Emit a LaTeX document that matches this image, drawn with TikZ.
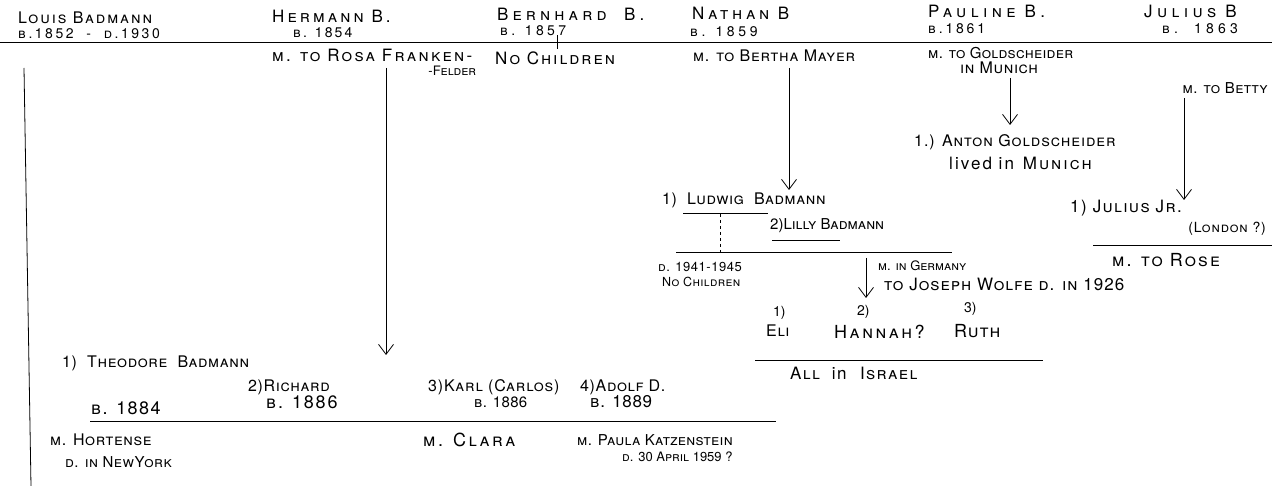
\documentclass[tikz,border=0pt]{standalone}
\usepackage{fontspec}
\setmainfont{TeX Gyre Heros}
\usetikzlibrary{arrows.meta}
\begin{document}
\begin{tikzpicture}[x=1pt,y=-1pt,
  hw/.style 2 args={anchor=west,inner sep=0pt,font=\fontsize{#1}{#1}\selectfont\addfontfeatures{LetterSpace=#2}\scshape},
  ln/.style={line width=0.8pt},
  arr/.style={line width=0.8pt,-{Straight Barb[length=10pt,width=15pt]}}]
\useasboundingbox[fill=white] (0,0) rectangle (1272,486);
% ---- top generation
\node[hw={16}{12}] (louis) at (18,18) {Louis Badmann};
\node[hw={14}{18}] (louisd) at (18,34) {b.1852\ \ -\ \ d.1930};
\node[hw={17}{18}] (herm) at (272,16) {Hermann B.};
\node[hw={14}{15}] (hermb) at (293,33) {b. 1854};
\node[hw={17}{24}] (bern) at (497,14) {Bernhard\ \ B.};
\node[hw={14}{24}] (bernb) at (500,31) {b. 1857};
\node[hw={17}{22}] (nath) at (692,13) {Nathan B};
\node[hw={14}{26}] (nathb) at (690,32) {b. 1859};
\node[hw={17}{26}] (paul) at (928,11) {Pauline B.};
\node[hw={14}{20}] (paulb) at (928,29) {b.1861};
\node[hw={17}{26},anchor=east] (jul) at (1237,11) {Julius B};
\node[hw={14}{30},anchor=east] (julb) at (1238,29) {b.\ \ 1863};
\coordinate (mainL) at (0,42);
\coordinate (mainR) at (1272,42);
\draw[ln] (mainL) -- (mainR);
\coordinate (tickA) at (557,35);
\coordinate (tickB) at (557,49);
\draw[ln] (tickA) -- (tickB);
% ---- marriages
\node[hw={17}{13}] (hermm) at (272,55) {m. to Rosa Franken-};
\node[hw={13}{0},anchor=east] (hermf) at ([xshift=4pt,yshift=-16pt]hermm.east) {-Felder};
\node[hw={17}{12}] (bernn) at (495,58) {No Children};
\node[hw={16}{5}] (nathm) at (693,56) {m. to Bertha Mayer};
\node[hw={15}{2}] (paulm) at (928,53) {m. to Goldscheider};
\node[hw={16}{4}] (paulmu) at (960,68) {in Munich};
\node[hw={15}{3},anchor=east] (julm) at (1268,88) {m. to Betty};
% ---- Louis line and arrows
\coordinate (louisA) at (24,68);
\coordinate (louisB) at (31,486);
\draw[ln] (louisA) -- (louisB);
\coordinate (hermA) at (386,68);
\coordinate (hermB) at (386,355);
\draw[arr] (hermA) -- (hermB);
\coordinate (nathA) at (789,68);
\coordinate (nathB) at (789,190);
\draw[arr] (nathA) -- (nathB);
\coordinate (paulA) at (1010,78);
\coordinate (paulB) at (1010,125);
\draw[arr] (paulA) -- (paulB);
\coordinate (julA) at (1184,98);
\coordinate (julB) at (1184,200);
\draw[arr] (julA) -- (julB);
% ---- Pauline's child
\node[hw={16}{6}] (anton) at (914,142) {1.) Anton Goldscheider};
\node[hw={17}{12}] (antonl) at (949,163) {\textulc{lived in} Munich};
% ---- Nathan's children
\node[hw={16}{4}] (lud) at (662,200) {1)\ \ Ludwig\ \ Badmann};
\coordinate (ludUL) at (683,213);
\coordinate (ludUR) at (768,213);
\draw[ln] (ludUL) -- (ludUR);
\node[hw={15}{0}] (lil) at (770,226) {2)Lilly Badmann};
\coordinate (lilUL) at (772,240);
\coordinate (lilUR) at (840,240);
\draw[ln] (lilUL) -- (lilUR);
\coordinate (dashA) at (720,214);
\coordinate (dashB) at (720,252);
\draw[ln,dashed] (dashA) -- (dashB);
\coordinate (sibL) at (676,252);
\coordinate (sibR) at (952,252);
\draw[ln] (sibL) -- (sibR);
\node[hw={13}{4}] (ludd) at (658,267) {d. 1941-1945};
\node[hw={12.5}{3}] (ludn) at (662,282) {No Children};
\coordinate (lilA) at (866,258);
\coordinate (lilB) at (866,298);
\draw[arr] (lilA) -- (lilB);
\node[hw={13}{0}] (germ) at (878,266) {m. in Germany};
\node[hw={17}{6}] (jos) at (884,284) {to Joseph Wolfe d. in 1926};
% ---- Lilly's children
\node[hw={14}{0}] (n1) at (773,313) {1)};
\node[hw={16}{4}] (eli) at (766,331) {Eli};
\node[hw={14}{0}] (n2) at (857,312) {2)};
\node[hw={18}{14}] (hannah) at (834,332) {Hannah?};
\node[hw={14}{0}] (n3) at (964,309) {3)};
\node[hw={18}{6}] (ruth) at (954,331) {Ruth};
\coordinate (isrL) at (755,360);
\coordinate (isrR) at (1043,360);
\draw[ln] (isrL) -- (isrR);
\node[hw={17}{8}] (isr) at (790,373) {All\ \ \textulc{in}\ \ Israel};
% ---- Julius' child
\node[hw={17}{8}] (juljr) at (1070,208) {1) Julius Jr.};
\node[hw={14}{6},anchor=east] (london) at (1266,229) {(London ?)};
\coordinate (jjL) at (1093,245);
\coordinate (jjR) at (1272,245);
\draw[ln] (jjL) -- (jjR);
\node[hw={18}{12}] (rose) at (1112,260) {m. to Rose};
% ---- Hermann's children
\node[hw={16}{4}] (theo) at (62,363) {1)\ \ Theodore\ \ Badmann};
\node[hw={16}{4}] (rich) at (248,387) {2)Richard};
\node[hw={18}{10}] (richb) at (266,402) {b. 1886};
\node[hw={16}{5}] (karl) at (428,387) {3)Karl (Carlos)};
\node[hw={15}{2}] (karlb) at (474,402) {b. 1886};
\node[hw={16}{4}] (adolf) at (580,387) {4)Adolf D.};
\node[hw={17}{4}] (adolfb) at (590,402) {b. 1889};
\node[hw={18}{8}] (theob) at (91,408) {b. 1884};
\coordinate (kidL) at (90,421);
\coordinate (kidR) at (776,421);
\draw[ln] (kidL) -- (kidR);
\node[hw={16}{4}] (theom) at (50,440) {m. Hortense};
\node[hw={15}{3}] (theod) at (65,462) {d. in NewYork};
\node[hw={18}{14}] (karlm) at (423,440) {m. Clara};
\node[hw={15}{2}] (adolfm) at (577,440) {m. Paula Katzenstein};
\node[hw={13}{0}] (adolfd) at (622,457) {d. 30 April 1959 ?};
\end{tikzpicture}
\end{document}
